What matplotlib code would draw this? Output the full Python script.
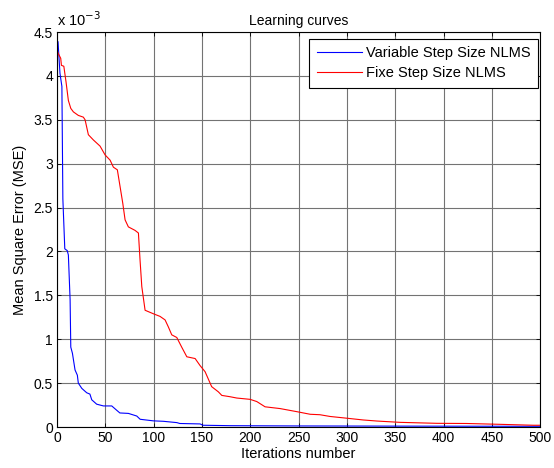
import numpy as np
import matplotlib
matplotlib.use('Agg')
import matplotlib.pyplot as plt

plt.rcParams['font.family'] = ['Liberation Sans', 'DejaVu Sans']

# MSE values (x 1e-3) along the iterations
iter_vss = [0, 1, 3, 5, 6, 8, 10.5, 11.7, 13.5, 14.2, 15.9, 18.6, 21, 22, 25.6, 30.7, 34, 35.9,
            41, 48, 56.6, 61.8, 65, 73.8, 82.5, 86, 99.7, 110, 124, 127, 148, 151, 180, 250, 350, 500]
mse_vss = [4.39, 4.39, 4.03, 3.88, 2.6, 2.03, 2.01, 1.96, 1.45, 0.91, 0.84, 0.65, 0.59, 0.50, 0.44,
           0.39, 0.375, 0.31, 0.26, 0.24, 0.24, 0.19, 0.16, 0.155, 0.125, 0.088, 0.07, 0.065, 0.05,
           0.04, 0.035, 0.02, 0.015, 0.012, 0.01, 0.008]

iter_fss = [0, 1, 3.8, 4.5, 7, 9.3, 11.7, 14.2, 16.9, 22, 27.2, 29, 32.4, 37.6, 44.5, 49.7, 54.9,
            58.3, 62.4, 65.2, 68, 70.4, 73.8, 80.7, 84.2, 85.9, 87.7, 91.1, 99.7, 106.6, 111.8,
            115.2, 118.7, 123.9, 129, 134.3, 142.9, 148, 153.2, 160, 167, 170.5, 179, 186, 199.8,
            206.7, 215.3, 230.8, 248, 255, 262, 272, 282.6, 300, 317, 331, 355, 393, 424, 460, 493, 500]
mse_fss = [4.30, 4.26, 4.2, 4.12, 4.11, 3.93, 3.72, 3.63, 3.59, 3.55, 3.53, 3.50, 3.33, 3.27,
           3.20, 3.10, 3.04, 2.96, 2.93, 2.74, 2.55, 2.36, 2.28, 2.24, 2.21, 1.90, 1.60, 1.33, 1.29,
           1.26, 1.22, 1.14, 1.05, 1.02, 0.91, 0.80, 0.78, 0.70, 0.63, 0.46, 0.40, 0.36, 0.345, 0.33,
           0.315, 0.29, 0.23, 0.21, 0.175, 0.16, 0.145, 0.14, 0.12, 0.10, 0.08, 0.068, 0.053, 0.042,
           0.04, 0.03, 0.02, 0.02]

x_ticks = np.arange(0, 501, 50)
y_ticks = np.arange(0, 4.51, 0.5)
y_labels = ['0', '0.5', '1', '1.5', '2', '2.5', '3', '3.5', '4', '4.5']

fig = plt.figure(figsize=(5.54, 4.68), dpi=100)
ax = fig.add_axes([0.103, 0.0876, 0.872, 0.844])

ax.plot(iter_vss, mse_vss, color='#0000ff', lw=0.8, label='Variable Step Size NLMS')
ax.plot(iter_fss, mse_fss, color='#ff0000', lw=0.8, label='Fixe Step Size NLMS')

ax.set_xlim(0, 500)
ax.set_ylim(0, 4.5)
ax.set_xticks(x_ticks)
ax.set_yticks(y_ticks)
ax.set_yticklabels(y_labels)
ax.tick_params(direction='in', top=True, right=True, labelsize=10, length=3, width=0.6, pad=3)
ax.grid(True, color='0.45', lw=0.8)
for s in ax.spines.values():
    s.set_linewidth(0.8)

ax.set_title('Learning curves', fontsize=10, pad=5)
ax.set_xlabel('Iterations number', fontsize=10.5, labelpad=1)
ax.set_ylabel('Mean Square Error (MSE)', fontsize=10.5, labelpad=5)
ax.text(0, 1.008, r'x 10$^{-3}$', transform=ax.transAxes, fontsize=10.5, va='bottom', ha='left')

leg = ax.legend(loc='upper right', bbox_to_anchor=(0.996, 0.982), borderaxespad=0,
                fontsize=10.5, fancybox=False, framealpha=1, edgecolor='black',
                handlelength=3.1, handletextpad=0.3, labelspacing=0.4, borderpad=0.5)
leg.get_frame().set_linewidth(0.8)

fig.savefig('out.png', dpi=100)
